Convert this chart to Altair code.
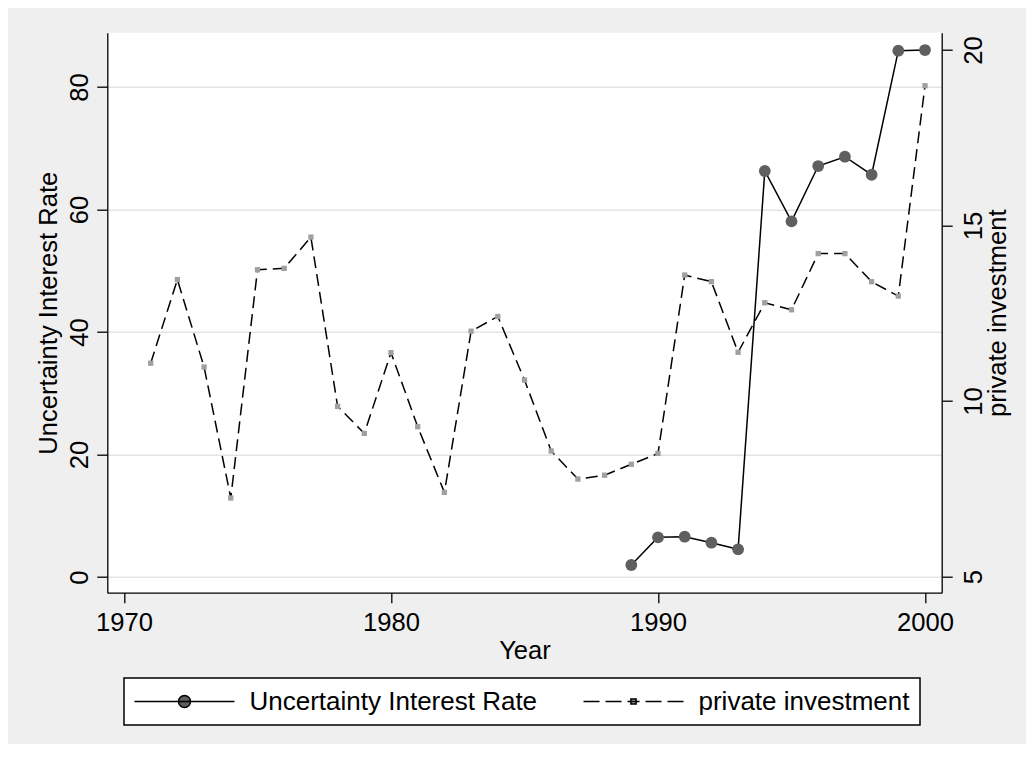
import altair as alt
import pandas as pd

# ---------------- data ----------------
years_inv = [1971, 1972, 1973, 1974, 1975, 1976, 1977, 1978, 1979, 1980,
             1981, 1982, 1983, 1984, 1985, 1986, 1987, 1988, 1989, 1990,
             1991, 1992, 1993, 1994, 1995, 1996, 1997, 1998, 1999, 2000]
private_investment = [11.08, 13.46, 10.97, 7.24, 13.74, 13.78, 14.67, 9.85, 9.08, 11.38,
                      9.27, 7.40, 11.99, 12.41, 10.60, 8.58, 7.78, 7.89, 8.20, 8.51,
                      13.59, 13.40, 11.39, 12.80, 12.60, 14.20, 14.20, 13.40, 12.99, 18.98]
years_unc = [1989, 1990, 1991, 1992, 1993, 1994, 1995, 1996, 1997, 1998, 1999, 2000]
uncertainty = [1.96, 6.48, 6.58, 5.60, 4.52, 66.29, 58.07, 67.10, 68.62, 65.68, 85.93, 86.04]
series_names = ["Uncertainty Interest Rate", "private investment"]
x_ticks = [1970, 1980, 1990, 2000]
left_ticks = [0, 20, 40, 60, 80]
right_ticks = [5, 10, 15, 20]

unc_df = pd.DataFrame({"Year": years_unc, "value": uncertainty, "series": series_names[0]})
inv_df = pd.DataFrame({"Year": years_inv, "value": private_investment, "series": series_names[1]})

# ---------------- style ----------------
FONT = "Liberation Sans"
W, H = 834.4, 560

# legend key glyphs (unit square -1..1 is scaled to sqrt(symbolSize))
path_unc = "M-5,0H5M0.6,0A0.6,0.6,0,1,1,-0.6,0A0.6,0.6,0,1,1,0.6,0Z"
path_inv = ("M-5,0H-3.4M-2.8,0H-1.2M-0.6,0H0.6M1.2,0H2.8M3.4,0H5"
            "M-0.26,-0.26H0.26V0.26H-0.26Z")

legend = alt.Legend(
    title=None, orient="none", legendX=16.7, legendY=645.3,
    direction="horizontal", columns=2, columnPadding=43, padding=10.5,
    fillColor="white", strokeColor="black",
    symbolSize=400, symbolStrokeWidth=1.5, symbolStrokeColor="black",
    symbolOpacity=1, symbolOffset=37, labelOffset=52,
    labelFont=FONT, labelFontSize=26, labelColor="black", labelLimit=600,
)

x_enc = alt.X("Year:Q",
              scale=alt.Scale(domain=[1969.375, 2000.625], nice=False, zero=False),
              axis=alt.Axis(values=x_ticks, format="d", title="Year", grid=False,
                            labelAngle=0, tickSize=10, labelPadding=7.8,
                            labelBaseline="top", labelAlign="center", labelFlush=False,
                            titleX=W / 2, titleY=65.3, titleAlign="center",
                            titleBaseline="alphabetic"))

y_left = alt.Y("value:Q",
               scale=alt.Scale(domain=[-2.56, 88.87], nice=False, zero=False),
               axis=alt.Axis(orient="left", values=left_ticks, grid=True,
                             gridColor="#e4e4e4", gridWidth=1.6,
                             title="Uncertainty Interest Rate",
                             labelAngle=270, labelAlign="center", labelBaseline="alphabetic",
                             labelPadding=9.5, tickSize=10.5,
                             titleAngle=270, titleX=-50.7, titleY=H / 2,
                             titleAlign="center", titleBaseline="alphabetic"))

y_right = alt.Y("value:Q",
                scale=alt.Scale(domain=[4.544, 20.49], nice=False, zero=False),
                axis=alt.Axis(orient="right", values=right_ticks, grid=False,
                              title="private investment",
                              labelAngle=270, labelAlign="center", labelBaseline="alphabetic",
                              labelPadding=29.5, tickSize=10.5,
                              titleAngle=270, titleX=63.6, titleY=H / 2,
                              titleAlign="center", titleBaseline="alphabetic"))

line_unc = alt.Chart(unc_df).mark_line(color="black", strokeWidth=1.5).encode(
    x=x_enc, y=y_left)
pts_unc = alt.Chart(unc_df).mark_point(shape="circle", filled=True, size=139,
                                       color="#5f5f5f", opacity=1).encode(x=x_enc, y=y_left)
layer_a = alt.layer(line_unc, pts_unc)

line_inv = alt.Chart(inv_df).mark_line(color="black", strokeWidth=1.5,
                                       strokeDash=[12, 6]).encode(x=x_enc, y=y_right)
pts_inv = alt.Chart(inv_df).mark_point(shape="square", filled=True, size=28,
                                       color="#a0a0a0", opacity=1).encode(x=x_enc, y=y_right)
# legend-only layer (no rows drawn): carries the key glyphs and colours
legend_layer = alt.Chart(inv_df).transform_filter("false").mark_point(
    filled=True, opacity=1, strokeWidth=1.5).encode(
    x=x_enc, y=y_right,
    fill=alt.Fill("series:N", scale=alt.Scale(domain=series_names,
                                               range=["#5f5f5f", "#a0a0a0"]), legend=legend),
    stroke=alt.Stroke("series:N", scale=alt.Scale(domain=series_names,
                                                   range=["black", "black"]), legend=legend),
    shape=alt.Shape("series:N", scale=alt.Scale(domain=series_names,
                                                 range=[path_unc, path_inv]), legend=legend),
)
layer_b = alt.layer(line_inv, pts_inv, legend_layer)

chart = (
    alt.layer(layer_a, layer_b)
    .resolve_scale(y="independent")
    .properties(width=W, height=H, background="#efefef",
                padding={"left": 99.3, "top": 24.7, "right": 84.3, "bottom": 151.3},
                autosize=alt.AutoSizeParams(type="none"))
    .configure_view(fill="white", strokeWidth=0)
    .configure_axis(labelFont=FONT, titleFont=FONT, labelFontSize=25.6, titleFontSize=25.6,
                    labelColor="black", titleColor="black", titleFontWeight="normal",
                    domainColor="black", tickColor="black", domainWidth=1.3, tickWidth=1.3)
    .configure_legend(strokeWidth=1.5)
)

chart.save("out.html", embed_options={"renderer": "svg", "actions": False})
